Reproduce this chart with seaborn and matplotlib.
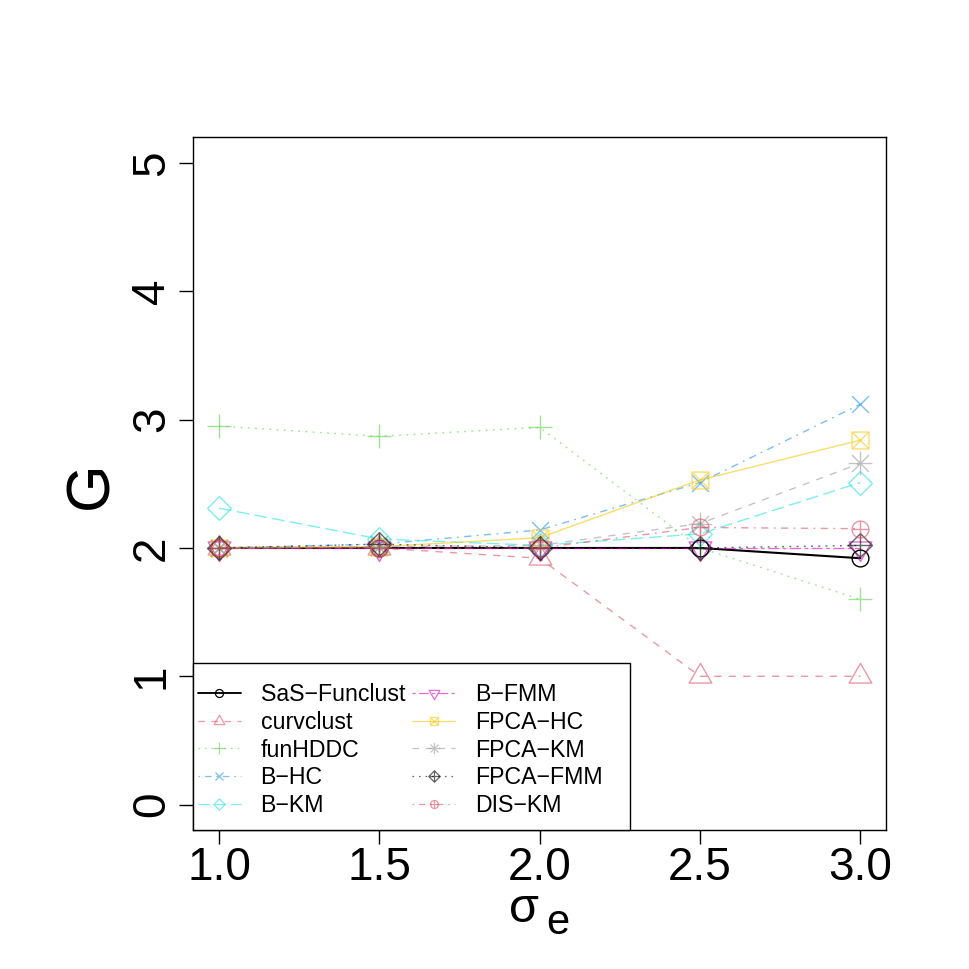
import numpy as np
import pandas as pd
import matplotlib
matplotlib.use("Agg")
import matplotlib.pyplot as plt
from matplotlib.path import Path
from matplotlib.lines import Line2D
from matplotlib.patches import Rectangle
import seaborn as sns

# ---------------- data ----------------
sigma_e = [1.0, 1.5, 2.0, 2.5, 3.0]
methods = ["SaS−Funclust", "curvclust", "funHDDC", "B−HC", "B−KM",
           "B−FMM", "FPCA−HC", "FPCA−KM", "FPCA−FMM", "DIS−KM"]
sas_funclust = [2.00, 2.00, 2.00, 2.00, 1.92]
curvclust    = [2.00, 2.00, 1.92, 1.00, 1.00]
funhddc      = [2.95, 2.87, 2.94, 2.00, 1.60]
b_hc         = [2.00, 2.03, 2.14, 2.51, 3.12]
b_km         = [2.31, 2.07, 2.02, 2.11, 2.51]
b_fmm        = [2.00, 2.00, 2.00, 2.00, 2.00]
fpca_hc      = [2.00, 2.01, 2.08, 2.53, 2.84]
fpca_km      = [2.00, 2.01, 2.02, 2.19, 2.66]
fpca_fmm     = [2.00, 2.03, 2.00, 2.00, 2.02]
dis_km       = [2.00, 2.00, 2.00, 2.16, 2.15]
series = [sas_funclust, curvclust, funhddc, b_hc, b_km,
          b_fmm, fpca_hc, fpca_km, fpca_fmm, dis_km]
x_ticks = [1.0, 1.5, 2.0, 2.5, 3.0]
x_ticklabels = ["1.0", "1.5", "2.0", "2.5", "3.0"]
y_ticks = [0, 1, 2, 3, 4, 5]
y_ticklabels = ["0", "1", "2", "3", "4", "5"]

# ---------------- styles ----------------
colors = ["#000000", "#DF536B", "#61D04F", "#2297E6", "#28E2E5",
          "#CD0BBC", "#F5C710", "#9E9E9E", "#000000", "#DF536B"]
alphas = [1.0] + [0.6] * 9
lwidths = [1.5] + [1.0] * 9
U = 1.3
lty = {
    "solid": "-",
    "dashed": (0, (4 * U, 4 * U)),
    "dotted": (0, (1 * U, 3 * U)),
    "dotdash": (0, (1 * U, 3 * U, 4 * U, 3 * U)),
    "longdash": (0, (7 * U, 3 * U)),
    "twodash": (0, (2 * U, 2 * U, 6 * U, 2 * U)),
}
ltys = ["solid", "dashed", "dotted", "dotdash", "longdash", "twodash",
        "solid", "dashed", "dotted", "dotdash"]


def seg(a, b):
    return Path([a, b], [Path.MOVETO, Path.LINETO])


def poly(pts):
    return Path(list(pts) + [pts[0]],
                [Path.MOVETO] + [Path.LINETO] * (len(pts) - 1) + [Path.CLOSEPOLY])


r2 = np.sqrt(2)
circle = Path.unit_circle()
tri_up = poly([(0, 1.555), (-1.347, -0.778), (1.347, -0.778)])
tri_dn = poly([(0, -1.555), (1.347, 0.778), (-1.347, 0.778)])
plus = Path.make_compound_path(seg((-r2, 0), (r2, 0)), seg((0, -r2), (0, r2)))
cross = Path.make_compound_path(seg((-1, -1), (1, 1)), seg((-1, 1), (1, -1)))
diamond = poly([(0, r2), (r2, 0), (0, -r2), (-r2, 0)])
sq_x = Path.make_compound_path(poly([(-1, -1), (1, -1), (1, 1), (-1, 1)]), cross)
aster = Path.make_compound_path(cross, plus)
dia_plus = Path.make_compound_path(diamond, plus)
circ_plus = Path.make_compound_path(circle, seg((-1, 0), (1, 0)), seg((0, -1), (0, 1)))
markers = [circle, tri_up, plus, cross, diamond, tri_dn, sq_x, aster, dia_plus, circ_plus]


def msize(path, xc_pt):
    return 2 * np.max(np.abs(path.vertices)) * xc_pt


DPI = 100
XC_PT = 8.4 * 72 / DPI
XC_LEG = 4.0 * 72 / DPI

sns.set_style("ticks")
plt.rcParams["font.family"] = ["Liberation Sans", "DejaVu Sans"]
plt.rcParams["axes.unicode_minus"] = True
plt.rcParams["mathtext.fontset"] = "custom"
plt.rcParams["mathtext.rm"] = "Liberation Sans"
plt.rcParams["mathtext.it"] = "Liberation Sans"
for k in ["text.color", "axes.labelcolor", "xtick.color", "ytick.color",
          "axes.edgecolor"]:
    plt.rcParams[k] = "black"

fig = plt.figure(figsize=(9.69, 9.69), dpi=DPI)
W = H = 969.0
L, R, T, B = 193.3, 886.0, 137.3, 830.3
ax = fig.add_axes([L / W, 1 - B / H, (R - L) / W, (B - T) / H])

df = pd.DataFrame({"sigma": sigma_e})
for i, (name, vals) in enumerate(zip(methods, series)):
    df[name] = vals

for i, name in enumerate(methods):
    sns.lineplot(data=df, x="sigma", y=name, ax=ax, color=colors[i],
                 linestyle=lty[ltys[i]], lw=lwidths[i], alpha=alphas[i],
                 marker=markers[i], markersize=msize(markers[i], XC_PT),
                 markerfacecolor="none", markeredgecolor=colors[i],
                 markeredgewidth=1.0, errorbar=None, legend=False, sort=False)

ax.set_xlim(0.92, 3.08)
ax.set_ylim(-0.2, 5.2)
ax.set_xticks(x_ticks)
ax.set_xticklabels(x_ticklabels)
ax.set_yticks(y_ticks)
ax.set_yticklabels(y_ticklabels, rotation=90, va="center")
ax.set_xlabel("")
ax.set_ylabel("")
for s in ax.spines.values():
    s.set_color("black")
    s.set_linewidth(1.0)
ax.tick_params(axis="both", direction="out", length=10, width=1.0,
               colors="black", labelcolor="black", labelsize=33)
ax.tick_params(axis="x", pad=1)
ax.tick_params(axis="y", pad=4)

# axis titles
fig.text(107 / W, 1 - 485 / H, "G", fontsize=44, rotation=90, color="black",
         rotation_mode="anchor", ha="center", va="baseline")
fig.text(524 / W, 1 - 922 / H, r"$\mathregular{σ}$", fontsize=35,
         ha="center", va="baseline", color="black")
fig.text(546 / W, 1 - 934 / H, r"$\mathregular{e}$", fontsize=30,
         ha="left", va="baseline", color="black")

# legend box
lx1 = (630 - L) / (R - L)
ly1 = (B - 663) / (B - T)
ax.add_patch(Rectangle((0, 0), lx1, ly1, transform=ax.transAxes,
                       facecolor="white", edgecolor="black", lw=1.0,
                       zorder=5, clip_on=False))
handles = []
for i, name in enumerate(methods):
    handles.append(Line2D([], [], color=colors[i], linestyle=lty[ltys[i]],
                          lw=lwidths[i] * 0.9, alpha=alphas[i], marker=markers[i],
                          markersize=msize(markers[i], XC_LEG),
                          markerfacecolor="none", markeredgecolor=colors[i],
                          markeredgewidth=0.9, label=name))
leg = ax.legend(handles=handles, ncol=2, loc="upper left",
                bbox_to_anchor=((198 - L) / (R - L), (B - 683) / (B - T)),
                frameon=False, fontsize=16.7, handlelength=1.85,
                handletextpad=0.85, columnspacing=0.3, labelspacing=0.205,
                borderpad=0, borderaxespad=0)
for t in leg.get_texts():
    t.set_color("black")
leg.set_zorder(6)

fig.savefig("out.png", dpi=DPI)
